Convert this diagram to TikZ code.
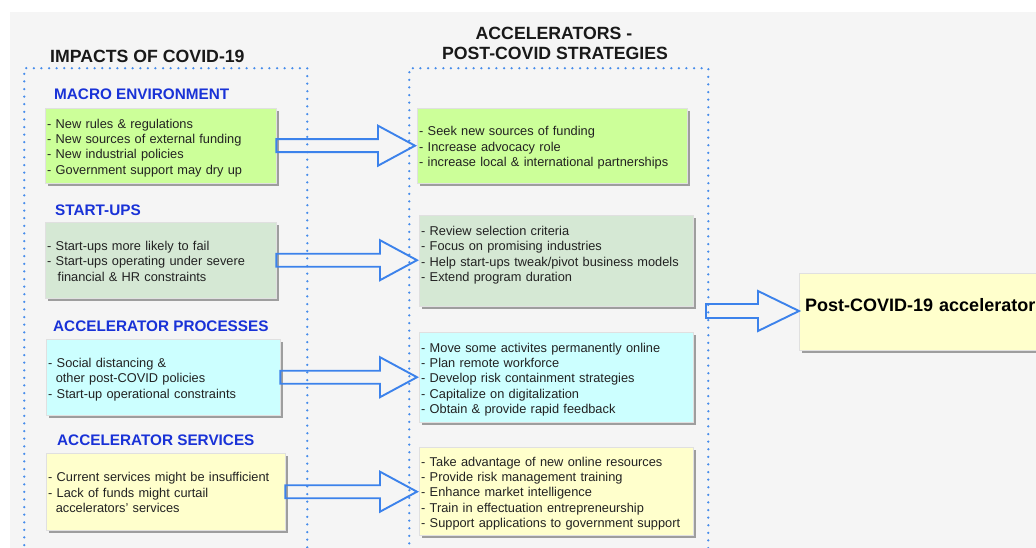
\documentclass[tikz,border=0pt]{standalone}
\usepackage{fontspec}
\setmainfont{Liberation Sans}
\usetikzlibrary{calc,shadows}
\definecolor{bggrey}{RGB}{245,245,245}
\definecolor{cgreen}{RGB}{204,255,153}
\definecolor{csage}{RGB}{213,232,212}
\definecolor{ccyan}{RGB}{204,255,255}
\definecolor{cyellow}{RGB}{255,255,204}
\definecolor{hblue}{RGB}{25,50,215}
\definecolor{dotblue}{RGB}{70,140,235}
\definecolor{arrblue}{RGB}{60,130,235}
\definecolor{txt}{RGB}{34,34,34}
\newcommand{\bodyfont}{\fontsize{12.8}{15.3}\selectfont}
\newcommand{\ind}{\hspace*{7.6pt}}
\newcommand{\fl}{\rule{0pt}{14pt}}
\newcommand{\lastl}{\rule[-3pt]{0pt}{3pt}}
\begin{document}
\begin{tikzpicture}[x=1pt,y=-1pt,
  card/.style={draw=black!12, line width=0.4pt,
    drop shadow={shadow xshift=3pt, shadow yshift=-3pt, fill=black!38, opacity=1},
    anchor=north west, inner xsep=2pt, inner ysep=0pt, align=left,
    font=\bodyfont, text=txt},
  grouptitle/.style={anchor=base west, inner sep=0pt, font=\fontsize{17.7}{20.7}\selectfont\bfseries, text=black!90},
  section/.style={anchor=base west, inner sep=0pt, font=\fontsize{15.3}{18}\selectfont\bfseries, text=hblue},
  dotbox/.style={draw=dotblue, line width=2.5pt, line cap=round, dash pattern=on 0pt off 7.6pt,
    anchor=north west, inner sep=0pt},
  barrow/.style={draw=arrblue, line width=1.9pt, line join=miter}
]
\useasboundingbox (0,0) rectangle (1036,548);
\clip (0,0) rectangle (1036,548);
\fill[white] (0,0) rectangle (1036,548);
\fill[bggrey] (10,12) rectangle (1036,548);

% group frames
\node[dotbox, minimum width=283pt, minimum height=500pt] (lgroup) at (23,67) {};
\node[dotbox, minimum width=299pt, minimum height=500pt] (rgroup) at (408,67) {};

% titles
\node[grouptitle] (t1) at (50,62.7) {IMPACTS OF COVID-19};
\node[grouptitle, anchor=base, align=center] (t2a) at (554,39.3) {ACCELERATORS -};
\node[grouptitle, anchor=base, align=center] (t2b) at (555,60) {POST-COVID STRATEGIES};

% section headings
\node[section] (s1) at (54,99.3) {MACRO ENVIRONMENT};
\node[section] (s2) at (55,215) {START-UPS};
\node[section] (s3) at (53,331.5) {ACCELERATOR PROCESSES};
\node[section] (s4) at (57,445.5) {ACCELERATOR SERVICES};

% left cards
\node[card, fill=cgreen, text width=227pt, minimum height=75pt] (l1) at (45,108)
 {\fl- New rules \& regulations\\- New sources of external funding\\- New industrial policies\\- Government support may dry up\lastl};
\node[card, fill=csage, text width=227pt, minimum height=76pt] (l2) at (45,222)
 {\fl- Start-ups more likely to fail\\- Start-ups operating under severe\\\hspace*{10.5pt}financial \& HR constraints\lastl};
\node[card, fill=ccyan, text width=230pt, minimum height=76pt] (l3) at (46,339)
 {\fl- Social distancing \&\\\ind other post-COVID policies\\- Start-up operational constraints\lastl};
\node[card, fill=cyellow, text width=235pt, minimum height=77pt] (l4) at (46,453)
 {\fl- Current services might be insufficient\\- Lack of funds might curtail\\\ind accelerators' services\lastl};

% right cards
\node[card, fill=cgreen, text width=266pt, minimum height=75pt] (r1) at (417,108)
 {\fl- Seek new sources of funding\\- Increase advocacy role\\- increase local \& international partnerships\lastl};
\node[card, fill=csage, text width=270pt, minimum height=91pt] (r2) at (419,215)
 {\fl- Review selection criteria\\- Focus on promising industries\\- Help start-ups tweak/pivot business models\\- Extend program duration\\\mbox{}\lastl};
\node[card, fill=ccyan, text width=270pt, minimum height=90pt] (r3) at (419,332)
 {\fl- Move some activites permanently online\\- Plan remote workforce\\- Develop risk containment strategies\\- Capitalize on digitalization\\- Obtain \& provide rapid feedback\lastl};
\node[card, fill=cyellow, text width=270pt, minimum height=88pt] (r4) at (419,447)
 {\fl- Take advantage of new online resources\\- Provide risk management training\\- Enhance market intelligence\\- Train in effectuation entrepreneurship\\- Support applications to government support\lastl};

% result card
\node[card, fill=cyellow, inner xsep=6pt, text width=300pt, minimum height=77pt,
  font=\fontsize{18}{21}\selectfont\bfseries, text=black] (post) at (799,273)
 {Post-COVID-19 accelerators\rule[-14pt]{0pt}{14pt}};

% block arrows
\foreach \a/\b in {l1/r1, l2/r2, l3/r3, l4/r4}{
  \draw[barrow] let \p1=(\a.east), \p2=(\b.west) in
    (\x1,\y1+6.5pt) -- (\x2-39pt,\y1+6.5pt) -- (\x2-39pt,\y1+20pt) -- (\x2-2pt,\y1)
    -- (\x2-39pt,\y1-20pt) -- (\x2-39pt,\y1-6.5pt) -- (\x1,\y1-6.5pt) -- cycle;
}
\coordinate (bigstart) at (706,311);
\draw[barrow] let \p1=(bigstart), \p2=(post.west) in
  (\x1,\y1+7pt) -- (\x2-41pt,\y1+7pt) -- (\x2-41pt,\y1+20pt) -- (\x2,\y1)
  -- (\x2-41pt,\y1-20pt) -- (\x2-41pt,\y1-7pt) -- (\x1,\y1-7pt) -- cycle;
\end{tikzpicture}
\end{document}
